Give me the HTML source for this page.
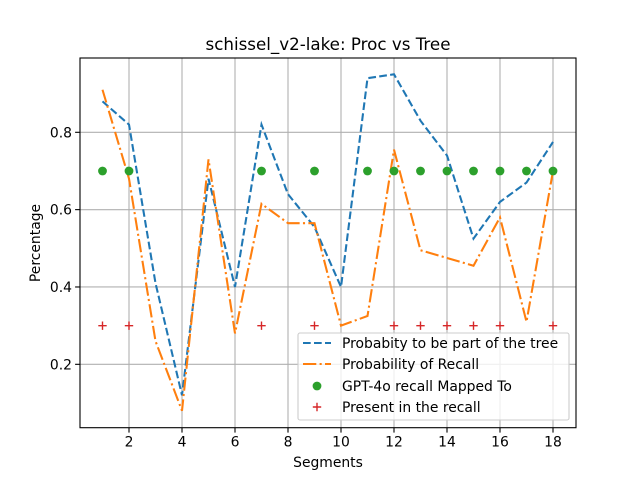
<!DOCTYPE html>
<html><head><meta charset="utf-8"><style>
body{margin:0;background:#fff}
svg{display:block;font-family:"DejaVu Sans","Liberation Sans",sans-serif}
</style></head><body>
<svg id="chart" width="640" height="480">
<g id="marks"></g>
<rect x="80" y="58" width="496" height="369.7" fill="none" stroke="#000" stroke-width="1.1"/>
<text x="328" y="50" text-anchor="middle" font-size="16.7">schissel_v2-lake: Proc vs Tree</text>
<text x="328" y="467" text-anchor="middle" font-size="13.9">Segments</text>
<text x="40" y="243" text-anchor="middle" font-size="13.9" transform="rotate(-90 40 243)">Percentage</text>
<g font-size="13.9">
<rect x="298" y="333" width="271" height="87" rx="2" fill="#fff" fill-opacity="0.8" stroke="#ccc" stroke-width="1.1"/>
<g><line x1="303" x2="331" y1="343" y2="343" stroke="#1f77b4" stroke-width="2.08" stroke-dasharray="7.7,3.3"/><text x="342" y="348">Probabity to be part of the tree</text></g>
<g><line x1="303" x2="331" y1="364" y2="364" stroke="#ff7f0e" stroke-width="2.08" stroke-dasharray="13.3,3.3,2.1,3.3"/><text x="342" y="369">Probability of Recall</text></g>
<g><circle cx="317" cy="386" r="4.4" fill="#2ca02c"/><text x="342" y="391">GPT-4o recall Mapped To</text></g>
<g><path d="M312.8,407H321.2M317,402.8V411.2" stroke="#d62728" stroke-width="1.4"/><text x="342" y="412">Present in the recall</text></g>
</g>
</svg>
<script>
const segments=[1,2,3,4,5,6,7,8,9,10,11,12,13,14,15,16,17,18];
const treeProb=[0.88,0.82,0.41,0.12,0.68,0.40,0.82,0.64,0.555,0.40,0.94,0.95,0.83,0.74,0.525,0.62,0.67,0.775];
const recallProb=[0.91,0.68,0.26,0.08,0.73,0.28,0.615,0.565,0.565,0.30,0.325,0.755,0.495,0.475,0.455,0.58,0.31,0.70];
const mappedX=[1,2,7,9,11,12,13,14,15,16,17,18];
const mappedY=[0.7,0.7,0.7,0.7,0.7,0.7,0.7,0.7,0.7,0.7,0.7,0.7];
const presentX=[1,2,7,9,12,13,14,15,16,18];
const presentY=[0.3,0.3,0.3,0.3,0.3,0.3,0.3,0.3,0.3,0.3];
const xTicks=[2,4,6,8,10,12,14,16,18];
const yTicks=[0.2,0.4,0.6,0.8];

const NS="http://www.w3.org/2000/svg";
const svg=document.getElementById('marks');
const L=80,R=576,T=58,B=427.7;
const X=v=>129+(v-2)*26.5;
const Y=v=>132.3+(0.8-v)*386.7;
function mk(tag,attrs,parent){const e=document.createElementNS(NS,tag);for(const k in attrs)e.setAttribute(k,attrs[k]);(parent||svg).appendChild(e);return e;}

xTicks.forEach(t=>{
 const l=mk('line',{x1:X(t),x2:X(t),y1:T,y2:B,stroke:'#b0b0b0','stroke-width':1.1});
 
 
 const tk=mk('line',{x1:X(t),x2:X(t),y1:B,y2:B+4.9,stroke:'#000','stroke-width':1.1});
 
 
 const tx=mk('text',{x:X(t),y:B+19,'text-anchor':'middle','font-size':13.9});
 tx.textContent=t;
 
 
});
yTicks.forEach(t=>{
 const l=mk('line',{x1:L,x2:R,y1:Y(t),y2:Y(t),stroke:'#b0b0b0','stroke-width':1.1});
 
 
 const tk=mk('line',{x1:L-4.9,x2:L,y1:Y(t),y2:Y(t),stroke:'#000','stroke-width':1.1});
 
 
 const tx=mk('text',{x:L-8,y:Y(t)+5,'text-anchor':'end','font-size':13.9});
 tx.textContent=t.toFixed(1);
 
 
});

const pts=(xs,ys)=>xs.map((x,i)=>X(x)+','+Y(ys[i])).join(' ');
const s1=mk('polyline',{points:pts(segments,treeProb),fill:'none',stroke:'#1f77b4','stroke-width':2.08,'stroke-dasharray':'7.7,3.3'});


const s2=mk('polyline',{points:pts(segments,recallProb),fill:'none',stroke:'#ff7f0e','stroke-width':2.08,'stroke-dasharray':'13.3,3.3,2.1,3.3'});


mappedX.forEach((x,i)=>{
 const c=mk('circle',{cx:X(x),cy:Y(mappedY[i]),r:4.4,fill:'#2ca02c'});
 
 
});
presentX.forEach((x,i)=>{
 const cx=X(x),cy=Y(presentY[i]);
 const p=mk('path',{d:`M${cx-4.2},${cy}H${cx+4.2}M${cx},${cy-4.2}V${cy+4.2}`,stroke:'#d62728','stroke-width':1.4});
 
 
});
</script>
</body></html>
